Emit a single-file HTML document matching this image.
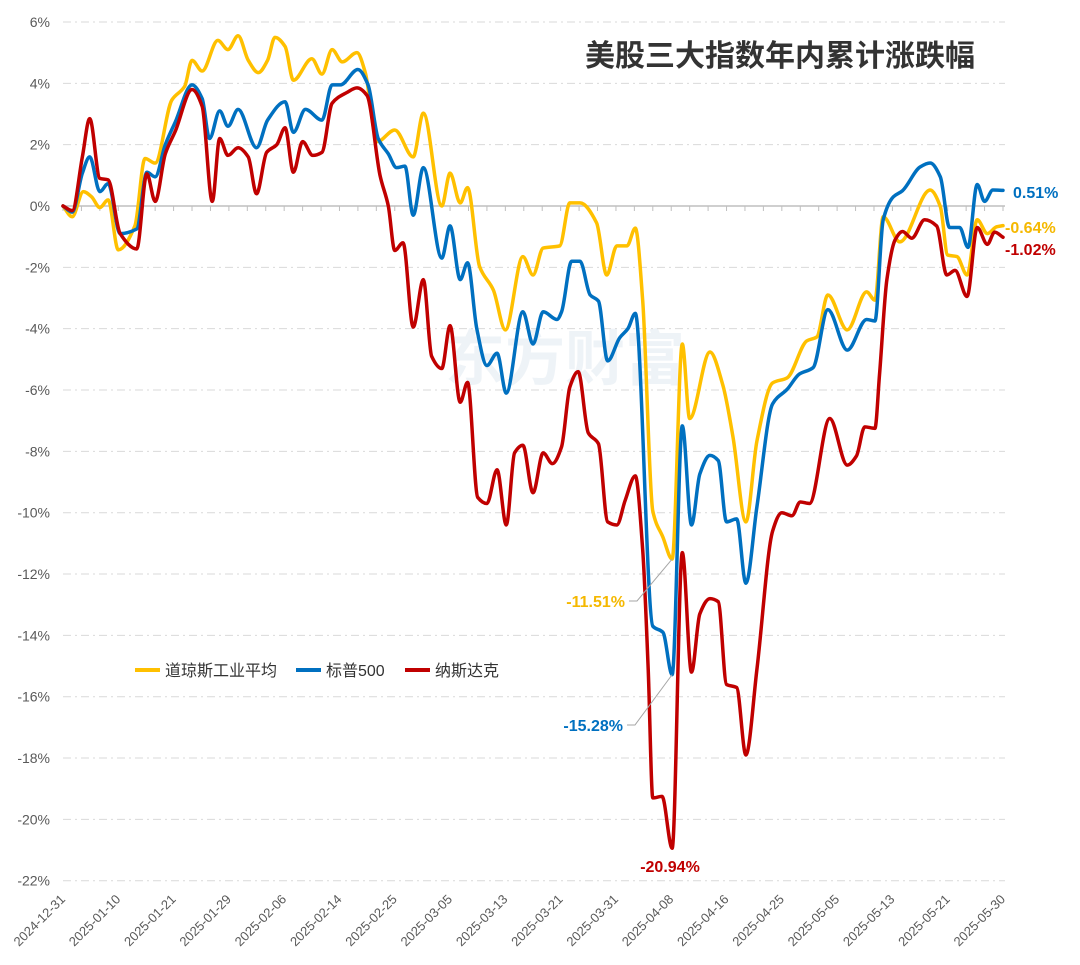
<!DOCTYPE html>
<html><head><meta charset="utf-8">
<style>
html,body{margin:0;padding:0;background:#fff;}
svg{display:block;font-family:"Liberation Sans","Noto Sans CJK SC",sans-serif;}
</style></head>
<body>
<svg id="chart" width="1080" height="965" viewBox="0 0 1080 965">
<text x="780" y="66" text-anchor="middle" font-size="30" font-weight="bold" fill="#333" font-family="'Liberation Sans','Noto Sans CJK SC',sans-serif">美股三大指数年内累计涨跌幅</text>
<text x="565" y="380" text-anchor="middle" font-size="60" font-weight="bold" fill="#e8eef4" opacity="0.7">东方财富</text>
<g id="grid"></g><g id="axes"></g><g id="series"></g><g id="notes"></g>
<g>
 <g><line x1="135" y1="670" x2="160" y2="670" stroke="#FFC000" stroke-width="4"/><text x="165" y="676" font-size="16" fill="#333">道琼斯工业平均</text></g>
 <g><line x1="296" y1="670" x2="321" y2="670" stroke="#0070C0" stroke-width="4"/><text x="326" y="676" font-size="16" fill="#333">标普500</text></g>
 <g><line x1="405" y1="670" x2="430" y2="670" stroke="#C00000" stroke-width="4"/><text x="435" y="676" font-size="16" fill="#333">纳斯达克</text></g>
</g>
</svg>
<script>
const tickLabels=["2024-12-31","2025-01-10","2025-01-21","2025-01-29","2025-02-06","2025-02-14","2025-02-25","2025-03-05","2025-03-13","2025-03-21","2025-03-31","2025-04-08","2025-04-16","2025-04-25","2025-05-05","2025-05-13","2025-05-21","2025-05-30"];
const yTicks=[6,4,2,0,-2,-4,-6,-8,-10,-12,-14,-16,-18,-20,-22];
const dowDays=[0,1,2.2,3.1,4,4.9,6,7.8,8.9,10,11.8,13.2,14,15.1,16.8,17.9,19,20.1,21.2,22.2,23,24.1,25,27,28.1,29.2,30.3,31.9,32.8,34.1,36,38,39.1,41.1,42,43.1,43.9,45.2,46.7,48,49.9,51,52.1,53.9,55,56.1,57.9,59,60.1,61.2,62.1,62.9,64,65.1,66.1,67.2,68,70.2,71.6,72.7,74.1,75.3,77,78.6,80.7,81.8,83,85.1,87.2,88.1,89,90.8,94.1,95.2,96,97,98.1,99.2,100.3,101.3,102];
const dowVals=[0,-0.35,0.47,0.3,-0.05,0.2,-1.43,-0.65,1.55,1.4,3.45,3.9,4.75,4.4,5.4,5.1,5.55,4.75,4.35,4.75,5.5,5.2,4.1,4.8,4.3,5.1,4.7,5.0,4.35,2.1,2.48,1.6,3.03,0,1.07,0.1,0.6,-1.97,-2.74,-4.04,-1.65,-2.25,-1.37,-1.3,0.1,0.1,-0.55,-2.25,-1.3,-1.3,-0.72,-3.07,-9.95,-10.8,-11.51,-4.5,-6.93,-4.76,-5.84,-7.53,-10.3,-7.66,-5.77,-5.6,-4.4,-4.27,-2.9,-4.04,-2.8,-3.07,-0.35,-1.17,0.52,-0.02,-1.6,-1.65,-2.25,-0.45,-0.9,-0.68,-0.64];
const spDays=[0,1,2.1,2.9,4,4.9,6.2,8,9.1,10,11.1,12.2,14,15.1,15.9,17,17.9,19,21,22.2,24.1,25,26.3,28.1,29.2,30.1,32,33.1,34.2,35.3,36.2,37.1,38,39.1,41.1,42,43.1,43.9,44.9,46,47.1,48.1,49.9,51,52.1,53.6,54.1,55.2,56.1,57.2,58.1,59.1,60.4,61.3,62.1,64,65.1,66.1,67.2,68.2,69.1,70.2,71.1,72,73.1,74.1,75.3,77,78.6,79.9,81.4,83,85.1,87.2,88.1,89,90.1,91.1,93,94.1,95.2,96.2,97.3,98.2,99.2,100,100.9,102];
const spVals=[0,-0.2,1.07,1.6,0.47,0.73,-0.9,-0.75,1.1,0.95,2.0,2.75,3.95,3.5,2.2,3.1,2.6,3.15,1.9,2.8,3.4,2.4,3.15,2.8,3.95,3.95,4.45,3.95,2.2,1.7,1.25,1.3,-0.3,1.25,-1.7,-0.65,-2.4,-1.85,-4.0,-5.2,-4.8,-6.1,-3.45,-4.5,-3.45,-3.7,-3.45,-1.8,-1.8,-2.9,-3.1,-5.05,-4.3,-4.0,-3.5,-13.7,-13.9,-15.28,-7.17,-10.4,-8.74,-8.13,-8.3,-10.3,-10.2,-12.3,-9.8,-6.45,-5.97,-5.48,-5.27,-3.38,-4.7,-3.7,-3.75,-0.45,0.3,0.5,1.27,1.4,0.95,-0.7,-0.7,-1.35,0.7,0.15,0.52,0.51];
const ndDays=[0,1,2.1,2.9,4,4.9,6.2,8,9.1,10,11.1,12.2,14,15.1,16.2,17,17.9,19,20.1,21,22.1,23.2,24.1,25,26,27.1,28.1,29.2,30.8,31.9,33,34.4,35.3,36,36.9,38,39.1,40,41.1,42,43.1,43.9,45,46,47.1,48.1,49,49.9,51,52.1,53.1,54.1,55,55.9,57,58.1,59.1,60.1,61,62.1,62.9,63.5,64,65,66.1,67.2,68.2,69.1,70.2,71.1,72,73.1,74.1,75.3,77,78,79.1,80,81,83.2,85.1,86.1,87,88.1,88.6,89.4,90.3,91.1,92.1,93.5,94.8,95.9,96.8,98.1,99.2,100.3,101.1,102];
const ndVals=[0,-0.15,1.6,2.85,0.9,0.85,-0.9,-1.4,1.05,0.15,1.7,2.45,3.8,3.25,0.15,2.2,1.65,1.9,1.6,0.4,1.75,2.0,2.55,1.1,2.1,1.65,1.75,3.35,3.7,3.85,3.6,1.0,0,-1.45,-1.2,-3.95,-2.4,-4.9,-5.3,-3.9,-6.4,-5.75,-9.5,-9.7,-8.6,-10.4,-8.05,-7.8,-9.35,-8.05,-8.4,-7.85,-5.9,-5.4,-7.4,-7.75,-10.3,-10.4,-9.6,-8.8,-11.2,-15.1,-19.3,-19.25,-20.94,-11.3,-15.2,-13.3,-12.8,-12.9,-15.6,-15.7,-17.9,-15.1,-10.6,-10.0,-10.1,-9.65,-9.7,-6.93,-8.45,-8.15,-7.2,-7.25,-5.5,-2.4,-1.1,-0.83,-1.05,-0.45,-0.65,-2.25,-2.1,-2.95,-0.7,-1.25,-0.85,-1.02];

const NS="http://www.w3.org/2000/svg";
const X0=63,X1=1003,DAYS=102,Y0=206,PPU=30.67;
const xs=d=>X0+d*(X1-X0)/DAYS;
const ys=v=>Y0-v*PPU;
function mk(tag,attrs,parent){const e=document.createElementNS(NS,tag);for(const k in attrs)e.setAttribute(k,attrs[k]);parent.appendChild(e);return e;}
const grid=document.getElementById('grid'),axes=document.getElementById('axes'),ser=document.getElementById('series'),notes=document.getElementById('notes');
yTicks.forEach(v=>{
  if(v!==0){const l=mk('line',{x1:X0,x2:1005,y1:ys(v),y2:ys(v),stroke:'#d9d9d9','stroke-width':1,'stroke-dasharray':'8 4 2 4'},grid);
  
  }
  const t=mk('text',{x:50,y:ys(v)+5,'text-anchor':'end','font-size':14,fill:'#595959'},axes);
  t.textContent=v+'%';
  
  
});
const zl=mk('line',{x1:X0,x2:1005,y1:Y0,y2:Y0,stroke:'#bfbfbf','stroke-width':1.5},axes);


for(let d=0;d<=DAYS;d+=2){mk('line',{x1:xs(d),x2:xs(d),y1:Y0,y2:Y0+5,stroke:'#bfbfbf','stroke-width':1},axes);}
tickLabels.forEach((s,i)=>{
  const x=xs(i*6)+3,y=900;
  const t=mk('text',{x:x,y:y,'text-anchor':'end','font-size':13,fill:'#595959',transform:`rotate(-45 ${x} ${y})`},axes);
  t.textContent=s;
  
  
});
function path(days,vals){
  const n=days.length,px=days.map(xs),py=vals.map(ys);
  const dl=[],m=new Array(n);
  for(let i=0;i<n-1;i++)dl.push((py[i+1]-py[i])/(px[i+1]-px[i]));
  m[0]=dl[0];m[n-1]=dl[n-2];
  for(let i=1;i<n-1;i++){m[i]=(dl[i-1]*dl[i]<=0)?0:2/(1/dl[i-1]+1/dl[i]);}
  let s=`M${px[0]},${py[0]}`;
  for(let i=0;i<n-1;i++){
    const h=(px[i+1]-px[i])/3;
    s+=` C${px[i]+h},${py[i]+m[i]*h} ${px[i+1]-h},${py[i+1]-m[i+1]*h} ${px[i+1]},${py[i+1]}`;
  }
  return s;
}
[[dowDays,dowVals,'#FFC000','dow-line'],[spDays,spVals,'#0070C0','sp500-line'],[ndDays,ndVals,'#C00000','nasdaq-line']].forEach(([d,v,c,n])=>{
  const e=mk('path',{d:path(d,v),fill:'none',stroke:c,'stroke-width':3.5,'stroke-linejoin':'round','stroke-linecap':'round'},ser);
  
  
});
function note(txt,x,y,color,anchor,name,lx,ly,tx,ty){
  if(lx!==undefined){const l=mk('polyline',{points:`${lx},${ly} ${lx+8},${ly} ${tx},${ty}`,fill:'none',stroke:'#a6a6a6','stroke-width':1},notes);
  
  }
  const t=mk('text',{x:x,y:y,'text-anchor':anchor,'font-size':16,'font-weight':'bold',fill:color},notes);
  t.textContent=txt;
  
  
}
note('-11.51%',625,607,'#F5B800','end','dow-min-label',629,601,xs(66.1),ys(-11.51));
note('-15.28%',623,731,'#0070C0','end','sp500-min-label',627,725,xs(66.1),ys(-15.28));
note('-20.94%',670,872,'#C00000','middle','nasdaq-min-label');
note('0.51%',1013,198,'#0070C0','start','sp500-end-label');
note('-0.64%',1005,233,'#F5B800','start','dow-end-label');
note('-1.02%',1005,255,'#C00000','start','nasdaq-end-label');
</script>
</body></html>
